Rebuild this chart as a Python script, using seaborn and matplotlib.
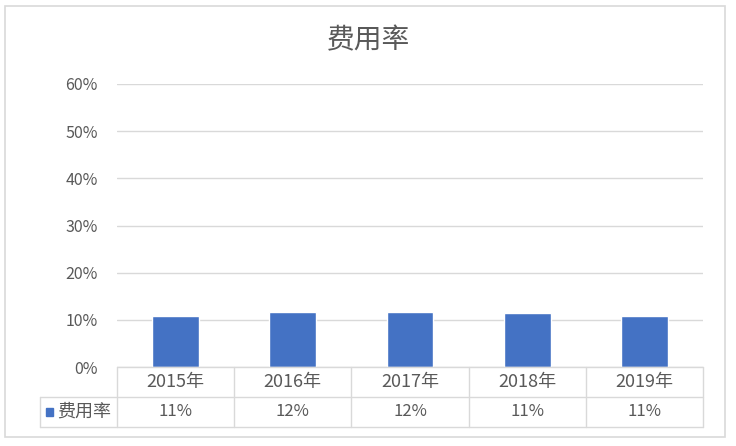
import matplotlib
matplotlib.use("Agg")
import matplotlib.pyplot as plt
from matplotlib.patches import Rectangle
from matplotlib.lines import Line2D
import seaborn as sns
import pandas as pd

# chart data
years = ["2015年", "2016年", "2017年", "2018年", "2019年"]
rate = [10.8, 11.7, 11.7, 11.4, 10.8]   # percent
rate_labels = ["11%", "12%", "12%", "11%", "11%"]
yticks = [0, 10, 20, 30, 40, 50, 60]
series_name = "费用率"

BAR = "#4472C4"
GRID = "#d9d9d9"
TEXT = "#595959"

sns.set_theme(style="white")
plt.rcParams['font.family'] = ['Noto Sans CJK SC', 'DejaVu Sans']

W, H = 736, 446
fig = plt.figure(figsize=(W / 100, H / 100), dpi=100)


def fx(px):
    return px / W


def fy(py):
    return 1 - py / H


# outer frame
fig.patches.append(Rectangle((fx(5), fy(437)), 720 / W, 431 / H,
                             transform=fig.transFigure, fill=False,
                             edgecolor=GRID, linewidth=1.2))

left, right, top, zero = 117, 703, 84, 367
ax = fig.add_axes([fx(left), fy(zero), (right - left) / W, (zero - top) / H])
df = pd.DataFrame({"year": years, "rate": rate})
sns.barplot(data=df, x="year", y="rate", color=BAR, width=0.4,
            saturation=1, ax=ax)
ax.set_xlim(-0.5, len(years) - 0.5)
ax.set_ylim(0, 60)
ax.set_yticks(yticks)
ax.set_yticklabels([f"{t}%" for t in yticks], color=TEXT, fontsize=11.5)
ax.tick_params(axis="y", length=0, pad=14)
ax.set_xticks([])
ax.set_xlabel("")
ax.set_ylabel("")
ax.grid(axis="y", color=GRID, linewidth=1)
ax.set_axisbelow(True)
for s in ax.spines.values():
    s.set_visible(False)

fig.text(0.5, fy(40), series_name, fontsize=20, color=TEXT,
         ha="center", va="center")

# data table under the axes
row1, row2, row3, tbl_left = 367, 397, 427, 40
col_w = (right - left) / len(years)


def hline(x0, x1, y):
    fig.add_artist(Line2D([fx(x0), fx(x1)], [fy(y), fy(y)],
                          transform=fig.transFigure, color=GRID, lw=1))


def vline(x, y0, y1):
    fig.add_artist(Line2D([fx(x), fx(x)], [fy(y0), fy(y1)],
                          transform=fig.transFigure, color=GRID, lw=1))


hline(left, right, row1)
hline(tbl_left, right, row2)
hline(tbl_left, right, row3)
vline(tbl_left, row2, row3)
for i in range(len(years) + 1):
    vline(left + i * col_w, row1, row3)

for i, (yr, lab) in enumerate(zip(years, rate_labels)):
    cx = fx(left + (i + 0.5) * col_w)
    fig.text(cx, fy((row1 + row2) / 2), yr, fontsize=13, color=TEXT,
             ha="center", va="center")
    fig.text(cx, fy((row2 + row3) / 2), lab, fontsize=12, color=TEXT,
             ha="center", va="center")

# legend key + series name
fig.patches.append(Rectangle((fx(46), fy(416)), 7 / W, 8 / H,
                             transform=fig.transFigure, color=BAR))
fig.text(fx(57), fy((row2 + row3) / 2), series_name, fontsize=13,
         color=TEXT, ha="left", va="center")

fig.savefig("out.png", dpi=100)
